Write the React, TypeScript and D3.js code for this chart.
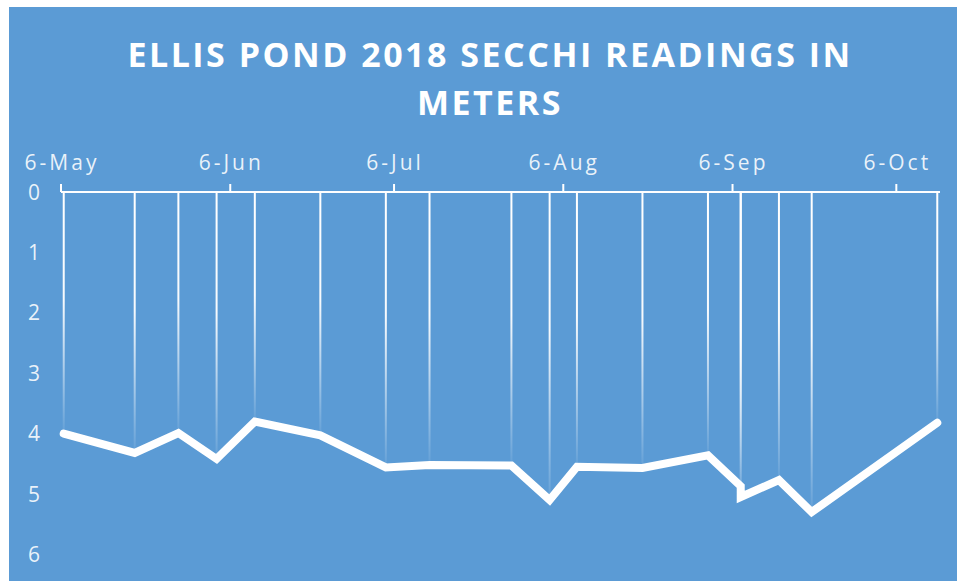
import React from 'react';
import * as d3 from 'd3';

// Secchi readings, Ellis Pond 2018 (meters below surface)
const sampleDates = [
    '2018-05-06', '2018-05-19', '2018-05-27', '2018-06-03', '2018-06-10', '2018-06-22',
    '2018-07-04', '2018-07-12', '2018-07-27', '2018-08-03', '2018-08-08', '2018-08-20',
    '2018-09-01', '2018-09-07', '2018-09-07', '2018-09-14', '2018-09-20', '2018-10-13',
];
const secchiDepths = [
    4.0, 4.32, 3.99, 4.42, 3.8, 4.03,
    4.56, 4.52, 4.53, 5.1, 4.55, 4.57,
    4.36, 4.87, 5.05, 4.77, 5.3, 3.82,
];
const monthTicks = ['2018-05-06', '2018-06-06', '2018-07-06', '2018-08-06', '2018-09-06', '2018-10-06'];
const depthTicks = [0, 1, 2, 3, 4, 5, 6];
const titleLines = ['ELLIS POND 2018 SECCHI READINGS IN', 'METERS'];

const W = 958;
const H = 581;
const BLUE = '#5b9bd5';
const FONT = '"Open Sans", "DejaVu Sans", sans-serif';

const parse = d3.timeParse('%Y-%m-%d');
const fmt = d3.timeFormat('%-d-%b');

const App = () => {
    const data = sampleDates.map((d, i) => ({
        // Excel date axis puts each point in the middle of its day
        date: d3.timeHour.offset(parse(d) as Date, 12),
        value: secchiDepths[i],
    }));

    const xScale = d3.scaleTime()
        .domain([parse('2018-05-06') as Date, parse('2018-10-14') as Date])
        .range([61, 940]);
    const yScale = d3.scaleLinear().domain([0, 6]).range([192, 554.4]);

    const line = d3.line<{ date: Date; value: number }>()
        .x(d => xScale(d.date))
        .y(d => yScale(d.value));

    const axisY = yScale(0);

    return (
        <svg width={W} height={H} style={{ position: 'absolute', left: 0, top: 0 }}>
            <defs>
                <linearGradient id="dropFade" x1="0" y1="0" x2="0" y2="1">
                    <stop offset="0" stopColor="#fff" stopOpacity={1} />
                    <stop offset="0.45" stopColor="#fff" stopOpacity={0.95} />
                    <stop offset="1" stopColor="#fff" stopOpacity={0.05} />
                </linearGradient>
            </defs>
            <rect x={0} y={0} width={W} height={H} fill="#fff" />
            <rect x={9} y={7} width={948} height={H - 7} fill={BLUE} />

            {titleLines.map((t, i) => (
                <text key={t} x={490} y={67 + i * 48} textAnchor="middle"
                    fontFamily={FONT} fontWeight="bold" fontSize={34}
                    letterSpacing={2.5} fill="#fff">{t}</text>
            ))}

            {/* drop lines */}
            {data.map((d, i) => (
                <rect key={'drop' + i} x={xScale(d.date) - 1} y={axisY}
                    width={2} height={yScale(d.value) - axisY}
                    fill="url(#dropFade)" />
            ))}

            {/* top date axis */}
            <line x1={61} x2={940} y1={axisY} y2={axisY} stroke="#fff" strokeWidth={2} />
            {monthTicks.map(t => {
                const x = xScale(parse(t) as Date);
                return (
                    <g key={t}>
                        <line x1={x} x2={x} y1={axisY - 8} y2={axisY} stroke="#fff" strokeWidth={2} />
                        <text x={x + 1} y={170} textAnchor="middle" fontFamily={FONT}
                            fontSize={21} letterSpacing={3} fill="#fff" fillOpacity={0.88}>
                            {fmt(parse(t) as Date)}
                        </text>
                    </g>
                );
            })}

            {depthTicks.map(v => (
                <text key={v} x={34} y={yScale(v) + 7.5} textAnchor="middle" fontFamily={FONT}
                    fontSize={21} fill="#fff" fillOpacity={0.88}>{v}</text>
            ))}

            <path d={line(data) || ''} fill="none" stroke="#fff" strokeWidth={8}
                strokeLinejoin="miter" strokeLinecap="round" />
        </svg>
    );
};

export default App;
